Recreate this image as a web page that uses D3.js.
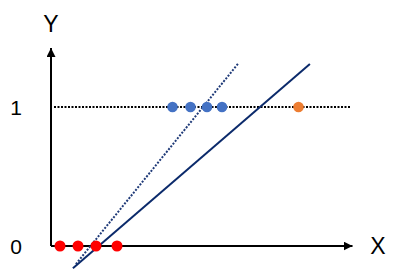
<!DOCTYPE html>
<html><head><meta charset="utf-8">
<script src="https://cdn.jsdelivr.net/npm/d3@7"></script>
<style>body{margin:0;background:#fff}svg{display:block}</style>
</head><body>
<svg id="c" width="402" height="277"></svg>
<script>
const axisLabels = ["X", "Y"];
const yTickLabels = ["0", "1"];
const yTickValues = [0, 1];
const class0X = [0.3, 0.9, 1.5, 2.2];
const class1BlueX = [4.05, 4.65, 5.2, 5.7];
const class1OrangeX = [8.25];
const solidLine = [[0.73, -0.16], [8.63, 1.31]];
const dottedLine = [[0.83, -0.13], [6.23, 1.31]];

const svg = d3.select("#c");
const x = d3.scaleLinear().domain([0, 10]).range([51, 351]);
const y = d3.scaleLinear().domain([0, 1]).range([246, 107]);

const defs = svg.append("defs");
defs.append("marker").attr("id","arr").attr("viewBox","0 0 10 10").attr("refX",10).attr("refY",5)
  .attr("markerWidth",4.5).attr("markerHeight",4.5).attr("markerUnits","strokeWidth").attr("orient","auto")
  .append("path").attr("d","M0,0L10,5L0,10z").attr("fill","#000");

// dotted horizontal line at y=1
svg.append("line").attr("x1", x(0.1)).attr("x2", x(9.97)).attr("y1", y(1)).attr("y2", y(1))
  .attr("stroke","#000").attr("stroke-width",2).attr("stroke-dasharray","2,1.5");

// axes
svg.append("line").attr("x1", x(0)).attr("y1", y(0)).attr("x2", x(0)).attr("y2", y(1.425))
  .attr("stroke","#000").attr("stroke-width",2).attr("marker-end","url(#arr)");
svg.append("line").attr("x1", x(0)).attr("y1", y(0)).attr("x2", x(10.05)).attr("y2", y(0))
  .attr("stroke","#000").attr("stroke-width",2).attr("marker-end","url(#arr)");

// lines
const lg = d3.line().x(d=>x(d[0])).y(d=>y(d[1]));
svg.append("path").attr("d", lg(dottedLine)).attr("fill","none").attr("stroke","#1f3a78")
  .attr("stroke-width",2).attr("stroke-dasharray","2,1.5");
svg.append("path").attr("d", lg(solidLine)).attr("fill","none").attr("stroke","#0b2a6b")
  .attr("stroke-width",2);

// points
svg.selectAll(".r").data(class0X).join("circle").attr("cx", d=>x(d)).attr("cy", y(0)).attr("r",5.5).attr("fill","#ff0000");
svg.selectAll(".b").data(class1BlueX).join("circle").attr("cx", d=>x(d)).attr("cy", y(1)).attr("r",5.3).attr("fill","#4472c4");
svg.selectAll(".o").data(class1OrangeX).join("circle").attr("cx", d=>x(d)).attr("cy", y(1)).attr("r",5.3).attr("fill","#ed7d31");

// labels
const font = "'Liberation Sans', Arial, sans-serif";
svg.selectAll(".yt").data(yTickValues).join("text").attr("x", 16).attr("y", d=>y(d)).attr("dy","0.36em")
  .attr("text-anchor","middle").attr("font-family",font).attr("font-size",21).text((d,i)=>yTickLabels[i]);
svg.append("text").attr("x", 378).attr("y", y(0)).attr("dy","0.36em").attr("text-anchor","middle")
  .attr("font-family",font).attr("font-size",23).text(axisLabels[0]);
svg.append("text").attr("x", x(0)).attr("y", 24).attr("dy","0.36em").attr("text-anchor","middle")
  .attr("font-family",font).attr("font-size",23).text(axisLabels[1]);
</script>
</body></html>
